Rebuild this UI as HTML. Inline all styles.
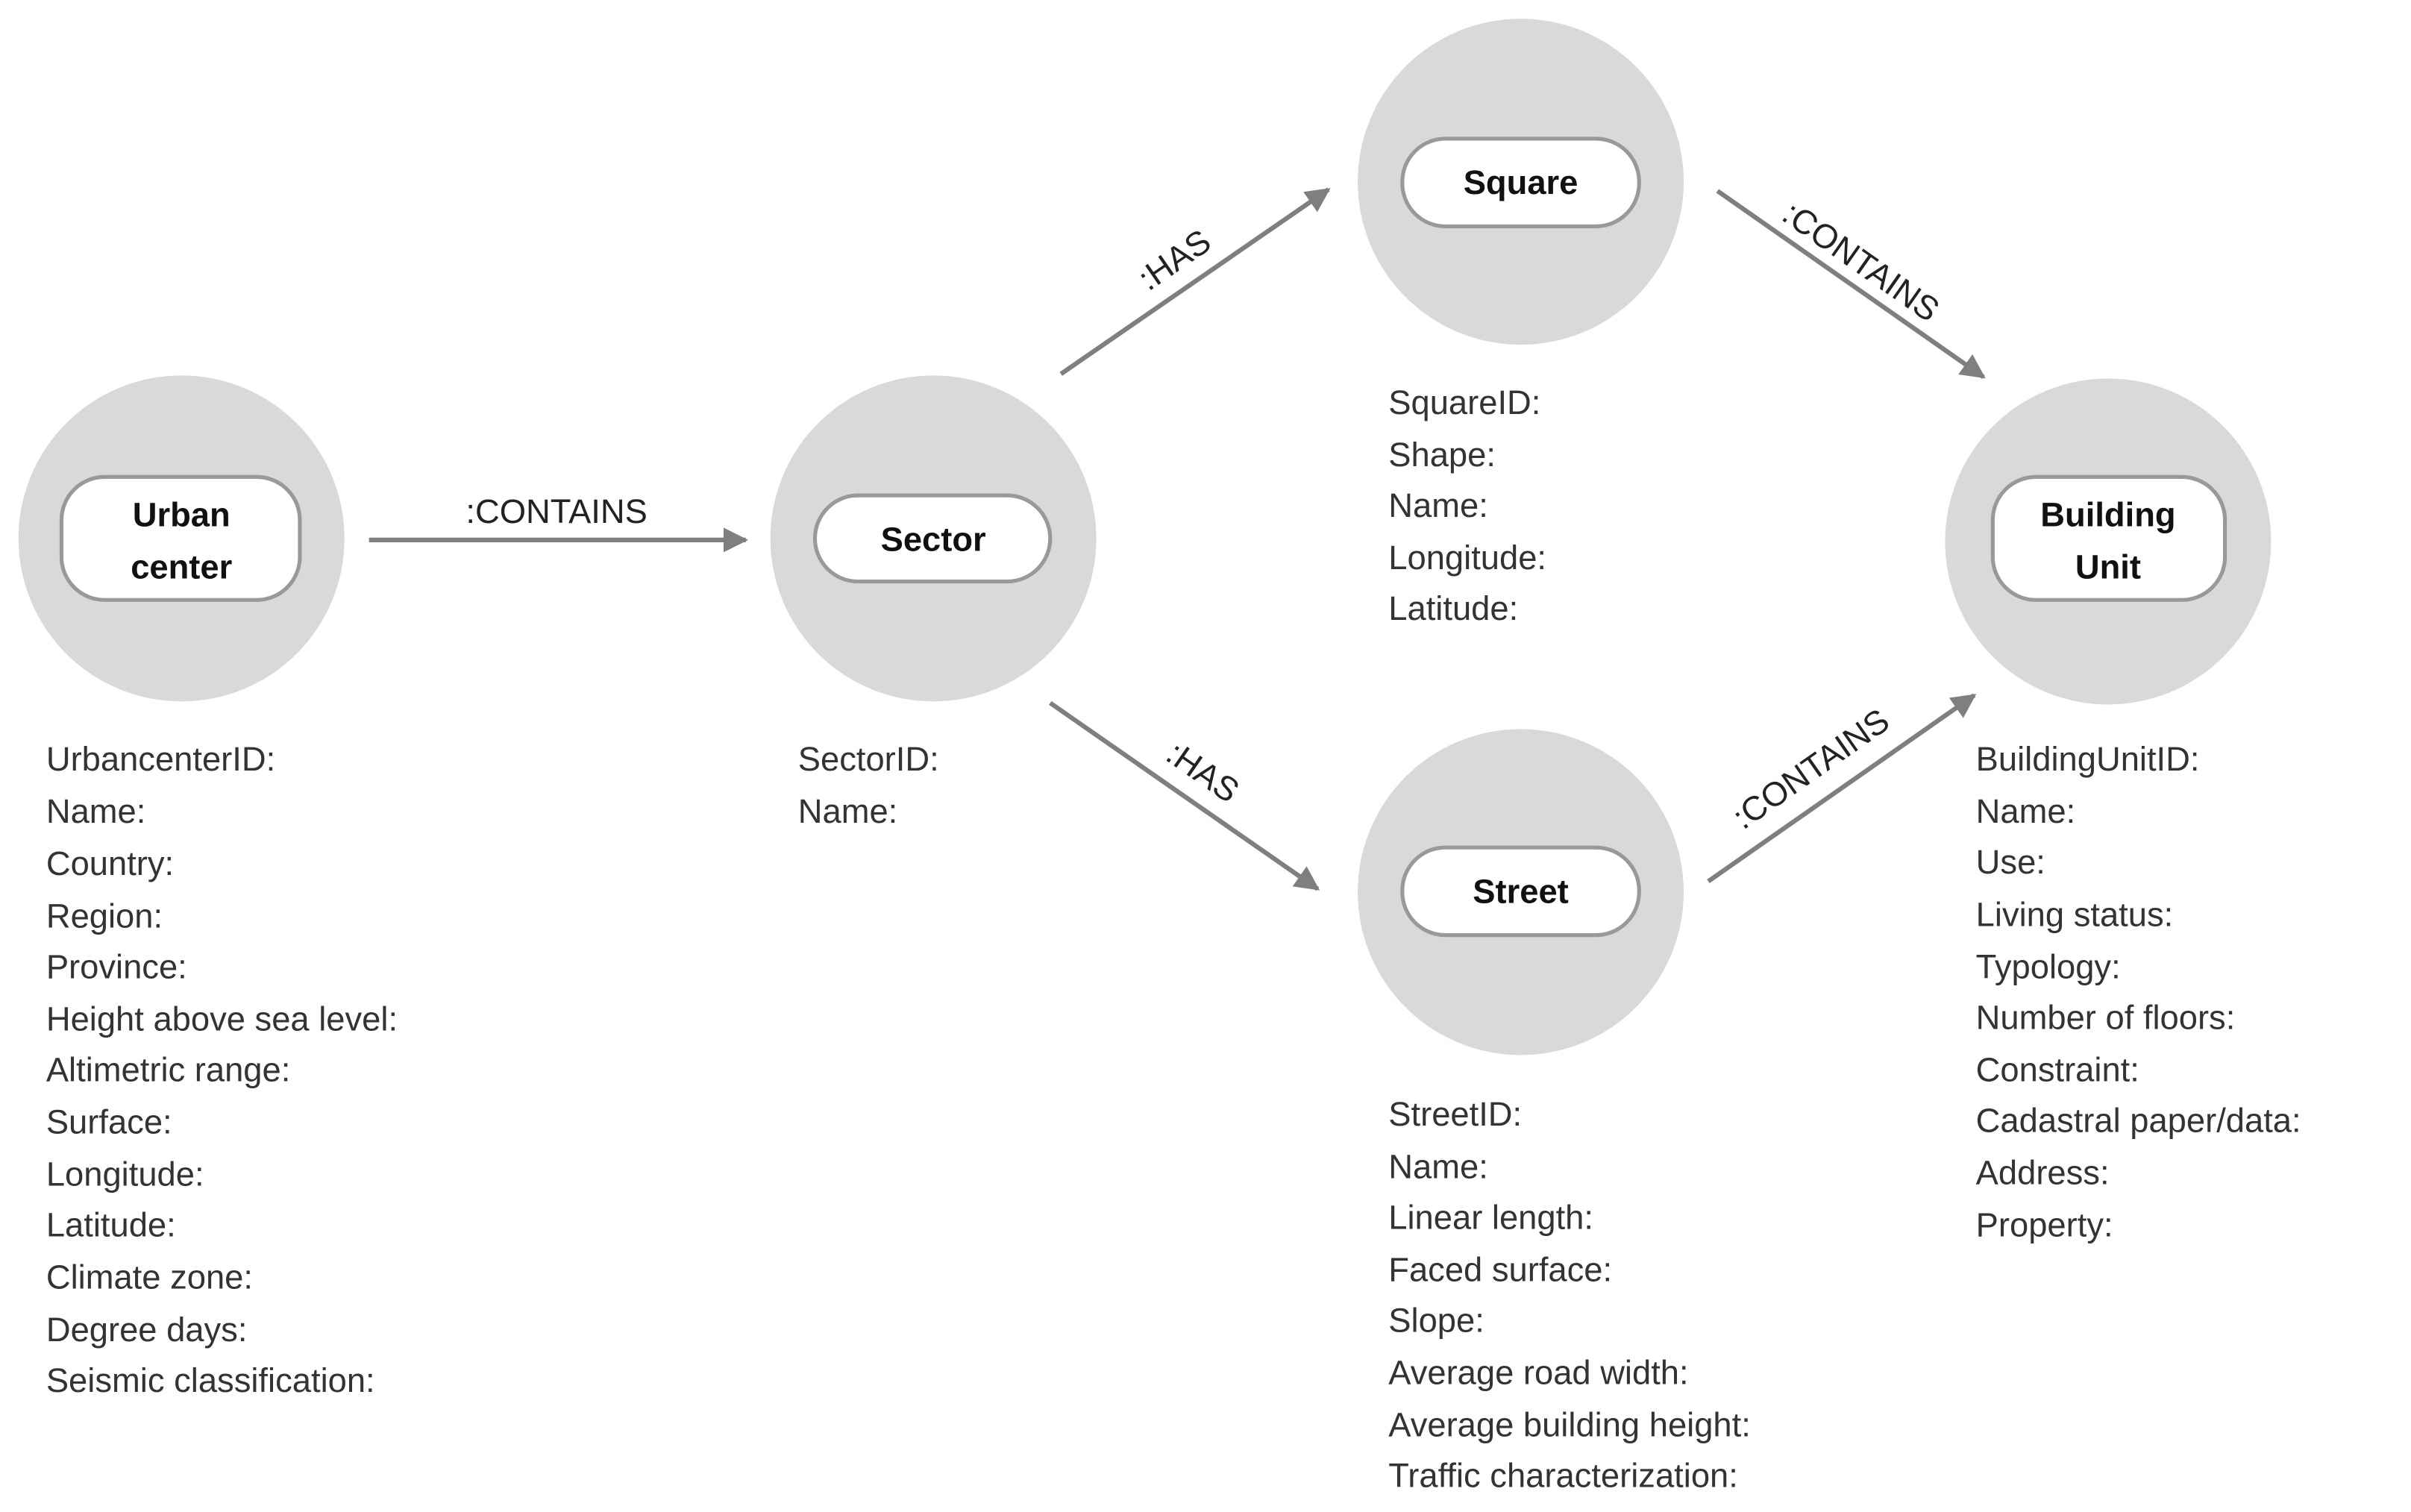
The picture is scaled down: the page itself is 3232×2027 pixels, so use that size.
<!DOCTYPE html>
<html><head><meta charset="utf-8"><style>
html,body{margin:0;padding:0;background:#fff;}
svg{display:block;}
.l{font-family:"Liberation Sans",sans-serif;font-size:22px;fill:#333;}
.b{font-family:"Liberation Sans",sans-serif;font-size:22px;font-weight:bold;fill:#111;text-anchor:middle;}
.e{font-family:"Liberation Sans",sans-serif;font-size:22px;fill:#222;text-anchor:middle;}
</style></head><body>
<svg width="3232" height="2027" viewBox="0 0 1568 983" xmlns="http://www.w3.org/2000/svg">
<defs><marker id="a" markerWidth="10" markerHeight="10" refX="8" refY="5" orient="auto" markerUnits="userSpaceOnUse"><path d="M0,0 L10,5 L0,10 z" fill="#7f7f7f"/></marker>
<marker id="h" viewBox="0 0 10 10" markerWidth="16" markerHeight="16" refX="9" refY="5" orient="auto" markerUnits="userSpaceOnUse"><path d="M0,0 L10,5 L0,10 z" fill="#7f7f7f"/></marker></defs>
<g fill="#d9d9d9">
<circle cx="118" cy="350" r="106"/>
<circle cx="607" cy="350" r="106"/>
<circle cx="989" cy="118" r="106"/>
<circle cx="989" cy="580" r="106"/>
<circle cx="1371" cy="352" r="106"/>
</g>
<g fill="#fff" stroke="#999" stroke-width="2.5">
<rect x="40" y="310" width="155" height="80" rx="28"/>
<rect x="530" y="322" width="153" height="56" rx="28"/>
<rect x="912" y="90" width="154" height="57" rx="28"/>
<rect x="912" y="551" width="154" height="57" rx="28"/>
<rect x="1296" y="310" width="151" height="80" rx="28"/>
</g>
<text class="b" x="118" y="342">Urban</text>
<text class="b" x="118" y="376">center</text>
<text class="b" x="607" y="358">Sector</text>
<text class="b" x="989" y="126">Square</text>
<text class="b" x="989" y="587">Street</text>
<text class="b" x="1371" y="342">Building</text>
<text class="b" x="1371" y="376">Unit</text>
<g stroke="#7f7f7f" stroke-width="3" marker-end="url(#h)">
<line x1="240" y1="351" x2="485" y2="351"/>
<line x1="690" y1="243" x2="864" y2="123"/>
<line x1="683" y1="457" x2="857" y2="578"/>
<line x1="1117" y1="124" x2="1290" y2="245"/>
<line x1="1111" y1="573" x2="1284" y2="452"/>
</g>
<text class="e" x="362" y="340">:CONTAINS</text>
<text class="e" transform="translate(768,175) rotate(-34.6)">:HAS</text>
<text class="e" transform="translate(778,508) rotate(34.8)">:HAS</text>
<text class="e" transform="translate(1206,176) rotate(35)">:CONTAINS</text>
<text class="e" transform="translate(1182,506) rotate(-35)">:CONTAINS</text>
<g class="l">
<text x="30" y="501">UrbancenterID:</text>
<text x="30" y="535">Name:</text>
<text x="30" y="569">Country:</text>
<text x="30" y="603">Region:</text>
<text x="30" y="636">Province:</text>
<text x="30" y="670">Height above sea level:</text>
<text x="30" y="703">Altimetric range:</text>
<text x="30" y="737">Surface:</text>
<text x="30" y="771">Longitude:</text>
<text x="30" y="804">Latitude:</text>
<text x="30" y="838">Climate zone:</text>
<text x="30" y="872">Degree days:</text>
<text x="30" y="905">Seismic classification:</text>
<text x="519" y="501">SectorID:</text>
<text x="519" y="535">Name:</text>
<text x="903" y="269">SquareID:</text>
<text x="903" y="303">Shape:</text>
<text x="903" y="336">Name:</text>
<text x="903" y="370">Longitude:</text>
<text x="903" y="403">Latitude:</text>
<text x="903" y="732">StreetID:</text>
<text x="903" y="766">Name:</text>
<text x="903" y="799">Linear length:</text>
<text x="903" y="833">Faced surface:</text>
<text x="903" y="866">Slope:</text>
<text x="903" y="900">Average road width:</text>
<text x="903" y="934">Average building height:</text>
<text x="903" y="967">Traffic characterization:</text>
<text x="1285" y="501">BuildingUnitID:</text>
<text x="1285" y="535">Name:</text>
<text x="1285" y="568">Use:</text>
<text x="1285" y="602">Living status:</text>
<text x="1285" y="636">Typology:</text>
<text x="1285" y="669">Number of floors:</text>
<text x="1285" y="703">Constraint:</text>
<text x="1285" y="736">Cadastral paper/data:</text>
<text x="1285" y="770">Address:</text>
<text x="1285" y="804">Property:</text>
</g>
</svg>
</body></html>
